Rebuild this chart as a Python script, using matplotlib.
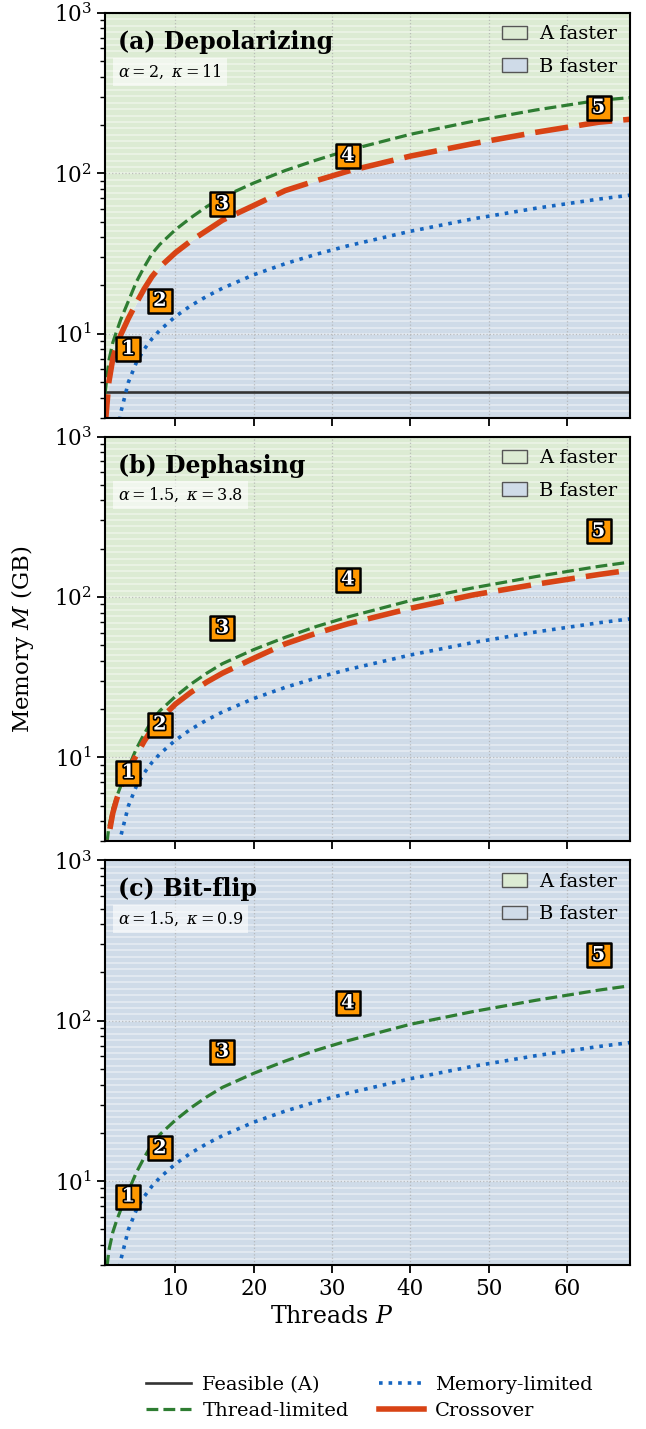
import matplotlib
matplotlib.use("Agg")
import matplotlib.pyplot as plt
import matplotlib.patheffects as pe
from matplotlib.patches import Patch
from matplotlib.lines import Line2D
import numpy as np

plt.rcParams['font.family'] = ['DejaVu Serif']
plt.rcParams['mathtext.fontset'] = 'dejavuserif'

P = [1, 1.5, 2, 2.5, 3, 4, 5, 6, 7, 8, 10, 12, 14, 16, 20, 24, 28, 32, 40, 48, 56, 64, 68]

nan = np.nan
# memory (GB) of each boundary curve
mem_limited = [nan, nan, nan, 2.2, 3.2, 5.0, 6.6, 8.0, 9.3, 10.5, 12.8, 15.0, 17.1, 19.2,
               23.3, 27.3, 31.3, 35.3, 43.5, 52, 60.5, 69, 73]
thread_a = [4.2, 6.8, 8.8, 10.4, 12.2, 16, 21, 26, 31.5, 36, 44.5, 53, 62, 71,
            87, 104, 121, 139, 175, 211, 248, 285, 296]
cross_a = [2.6, 5.0, 7.0, 8.5, 9.8, 12.5, 15.5, 19, 22.7, 26, 32, 38, 44, 51,
           63, 78, 90, 103, 128, 153, 180, 208, 217]
thread_bc = [2.3, 3.7, 4.8, 5.7, 6.6, 8.7, 11.3, 14, 17, 19.5, 24, 28.7, 33.5, 38.4,
             47, 56, 65.5, 75, 95, 114, 134, 155, 165]
cross_b = [1.9, 3.3, 4.5, 5.5, 6.5, 8.4, 10.3, 12.6, 15, 17.2, 21.5, 25.5, 29.5, 33.5,
           41.5, 51, 59.5, 68, 85, 103, 120, 138, 147]
feasible_a = 4.3

# numbered configurations
cfg_P = [4, 8, 16, 32, 64]
cfg_M = [8, 16, 64, 128, 256]
cfg_lab = ['1', '2', '3', '4', '5']

panels = [
    ("(a) Depolarizing", r"$\alpha=2,\ \kappa=11$", thread_a, cross_a, True),
    ("(b) Dephasing", r"$\alpha=1.5,\ \kappa=3.8$", thread_bc, cross_b, False),
    ("(c) Bit-flip", r"$\alpha=1.5,\ \kappa=0.9$", thread_bc, None, False),
]

GREEN_BG = '#dcebd3'
BLUE_BG = '#cfdbe8'
C_THREAD = '#2e7d32'
C_MEM = '#1565c0'
C_CROSS = '#d84315'
C_FEAS = '#333333'

YLO, YHI = 3, 1000
XLO, XHI = 1, 68

fig, axes = plt.subplots(3, 1, figsize=(6.46, 14.29), dpi=100, sharex=True)
fig.subplots_adjust(left=0.1625, right=0.975, top=0.991, bottom=0.1148, hspace=0.047)

for ax, (title, params, thread, cross, feas) in zip(axes, panels):
    ax.set_yscale('log')
    ax.set_xlim(XLO, XHI)
    ax.set_ylim(YLO, YHI)

    # regions
    if cross is None:
        ax.fill_between(P, 1, 2000, color=BLUE_BG, lw=0, zorder=0)
    else:
        ax.fill_between(P, 1, cross, color=BLUE_BG, lw=0, zorder=0)
        ax.fill_between(P, cross, 2000, color=GREEN_BG, lw=0, zorder=0)
    for y in np.geomspace(YLO, YHI, 64):
        ax.axhline(y, color='white', lw=1.2, alpha=0.45, zorder=0.5)

    ax.grid(True, which='major', ls=':', color='#aaaaaa', lw=0.9, alpha=0.7, zorder=0.6)

    if feas:
        ax.axhline(feasible_a, color=C_FEAS, lw=1.9, zorder=2)
    ax.plot(P, mem_limited, color=C_MEM, ls=':', lw=2.6, zorder=3)
    ax.plot(P, thread, color=C_THREAD, ls='--', lw=2.3, zorder=3)
    if cross is not None:
        ax.plot(P, cross, color=C_CROSS, lw=4, dashes=(6, 2), zorder=4)

    ax.scatter(cfg_P, cfg_M, s=300, marker='s', fc='#ff9800', ec='black', lw=1.8, zorder=5)
    for px, my, lab in zip(cfg_P, cfg_M, cfg_lab):
        t = ax.text(px, my, lab, ha='center', va='center', color='white',
                    fontsize=14, fontweight='bold', zorder=6)
        t.set_path_effects([pe.withStroke(linewidth=2.5, foreground='black')])

    ax.text(0.025, 0.928, title, transform=ax.transAxes, fontsize=17,
            fontweight='bold', va='center', ha='left', zorder=7)
    ax.text(0.025, 0.855, params, transform=ax.transAxes, fontsize=11.5,
            va='center', ha='left', zorder=7,
            bbox=dict(boxstyle='square,pad=0.3', fc='white', ec='none', alpha=0.6))

    leg = ax.legend(handles=[Patch(fc=GREEN_BG, ec='#555555', label='A faster'),
                             Patch(fc=BLUE_BG, ec='#555555', label='B faster')],
                    loc='upper right', fontsize=14, frameon=False,
                    handlelength=1.3, handleheight=0.7, handletextpad=0.6,
                    labelspacing=0.75, borderaxespad=0.25)
    leg.set_zorder(8)

    for s in ax.spines.values():
        s.set_linewidth(1.5)
        s.set_zorder(9)
    ax.tick_params(which='major', direction='out', length=6, width=1.3, labelsize=15.5)
    ax.tick_params(which='minor', direction='out', length=3.5, width=1.0)

axes[-1].set_xticks([10, 20, 30, 40, 50, 60])
axes[-1].set_xlabel(r"Threads $P$", fontsize=17)
axes[-1].xaxis.set_label_coords(0.432, -0.1)
axes[1].set_ylabel(r"Memory $M$ (GB)", fontsize=16.5)
axes[1].yaxis.set_label_coords(-0.132, 0.5)

handles = [Line2D([], [], color=C_FEAS, lw=1.9, label='Feasible (A)'),
           Line2D([], [], color=C_THREAD, ls='--', lw=2.3, label='Thread-limited'),
           Line2D([], [], color=C_MEM, ls=':', lw=2.6, label='Memory-limited'),
           Line2D([], [], color=C_CROSS, lw=4, label='Crossover')]
fig.legend(handles=handles, loc='lower center', bbox_to_anchor=(0.572, -0.006),
           ncol=2, frameon=False, fontsize=14, columnspacing=1.55,
           handlelength=2.3, handletextpad=0.6, labelspacing=0.4)

fig.savefig('out.png', dpi=100)
